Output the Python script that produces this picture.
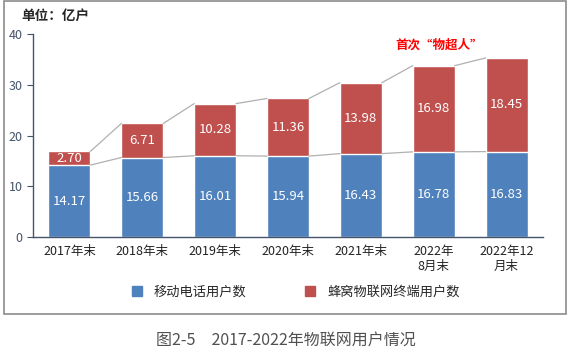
import numpy as np, pandas as pd, matplotlib
matplotlib.use("Agg")
import matplotlib.pyplot as plt, seaborn as sns
from matplotlib.patches import Rectangle
from matplotlib.lines import Line2D

sns.set_style("white")
plt.rcParams["font.family"] = ["Noto Sans CJK SC", "DejaVu Sans"]

# data (亿户)
periods = ["2017年末", "2018年末", "2019年末", "2020年末", "2021年末", "2022年\n8月末", "2022年12\n月末"]
mobile = [14.17, 15.66, 16.01, 15.94, 16.43, 16.78, 16.83]
iot = [2.70, 6.71, 10.28, 11.36, 13.98, 16.98, 18.45]
legend_names = ["移动电话用户数", "蜂窝物联网终端用户数"]

BLUE, RED = "#4F81BD", "#C0504D"
AX_C = "#44546A"

df = pd.DataFrame({"period": periods, "mobile": mobile, "iot": iot})
df["total"] = df["mobile"] + df["iot"]

fig = plt.figure(figsize=(5.72, 3.52), dpi=100)
ax = fig.add_axes([0.0577, 0.3267, 0.8916, 0.5767])
w = 0.575
sns.barplot(data=df, x="period", y="total", color=RED, saturation=1, width=w, ax=ax)
sns.barplot(data=df, x="period", y="mobile", color=BLUE, saturation=1, width=w, ax=ax)

# connector lines between bar tops
xs = np.arange(len(periods))
for col in ["mobile", "total"]:
    v = df[col].values
    for i in range(len(v) - 1):
        ax.plot([xs[i] + w / 2, xs[i + 1] - w / 2], [v[i], v[i + 1]], color="#B0B0B0", lw=0.9, zorder=1)

# value labels
for i in xs:
    ax.text(i, mobile[i] / 2, f"{mobile[i]:.2f}", ha="center", va="center", color="white", fontsize=9.5)
    ax.text(i, mobile[i] + iot[i] / 2, f"{iot[i]:.2f}", ha="center", va="center", color="white", fontsize=9.5)

ax.text(5.08, 37.8, "首次“物超人”", ha="center", va="center", color="#FF0000", fontsize=9, fontweight="bold")

ax.set_xlim(-0.5, 6.5)
ax.set_ylim(0, 40)
ax.set_yticks([0, 10, 20, 30, 40])
ax.set_xlabel(""); ax.set_ylabel("")
for s in ["top", "right"]:
    ax.spines[s].set_visible(False)
for s in ["left", "bottom"]:
    ax.spines[s].set_color(AX_C); ax.spines[s].set_linewidth(1)
ax.tick_params(axis="y", length=4, color=AX_C, labelcolor=AX_C, labelsize=9, direction="out", left=True)
ax.tick_params(axis="x", length=0, labelsize=9, labelcolor="#222222", pad=6)

fig.text(0.038, 0.955, "单位：亿户", fontsize=9.8, fontweight="bold", ha="left", va="center")

handles = [Line2D([], [], marker="s", ls="", color=BLUE, markersize=7),
           Line2D([], [], marker="s", ls="", color=RED, markersize=7)]
fig.legend(handles, legend_names, loc="center", bbox_to_anchor=(0.51, 0.17), ncol=2, frameon=False,
           fontsize=9.5, columnspacing=3.8, handletextpad=0.3)

fig.add_artist(Rectangle((4 / 572, 1 - 314 / 352), 562 / 572, 313 / 352, transform=fig.transFigure,
                         fill=False, edgecolor="#8C8C8C", lw=1.2))
fig.text(0.5, 1 - 340 / 352, "图2-5　2017-2022年物联网用户情况", ha="center", va="center", fontsize=11.5, color="#505050")

fig.savefig("out.png", dpi=100)
